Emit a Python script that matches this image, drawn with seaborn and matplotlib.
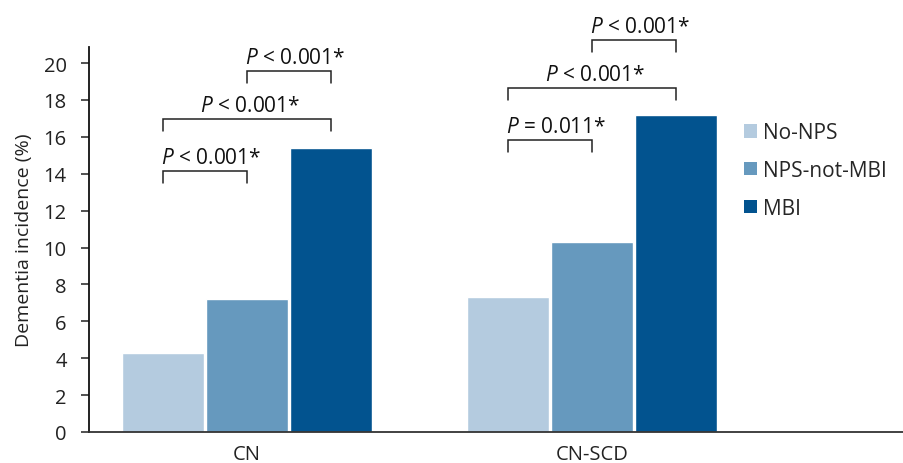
import matplotlib
matplotlib.use("Agg")
import matplotlib.pyplot as plt
import matplotlib.patches as mpatches
import seaborn as sns
import pandas as pd

# ---- data ----
categories = ["CN", "CN-SCD"]
groups = ["No-NPS", "NPS-not-MBI", "MBI"]
no_nps = [4.3, 7.3]
nps_not_mbi = [7.2, 10.3]
mbi = [15.4, 17.2]
colors = ["#B4CBDF", "#6699BE", "#02538F"]
yticks = [0, 2, 4, 6, 8, 10, 12, 14, 16, 18, 20]

# significance brackets: (category index, group a, group b, bracket level, label)
bracket_cat = [0, 0, 0, 1, 1, 1]
bracket_a = [0, 0, 1, 0, 0, 1]
bracket_b = [1, 2, 2, 1, 2, 2]
bracket_level = [14.15, 16.96, 19.57, 15.83, 18.64, 21.25]
bracket_text = ["< 0.001*", "< 0.001*", "< 0.001*", "= 0.011*", "< 0.001*", "< 0.001*"]

df = pd.DataFrame({
    "category": categories * 3,
    "group": [g for g in groups for _ in categories],
    "value": no_nps + nps_not_mbi + mbi,
})

sns.set_style("white")
plt.rcParams["font.family"] = ["Open Sans", "DejaVu Sans"]
plt.rcParams["mathtext.fontset"] = "custom"
plt.rcParams["mathtext.it"] = "Open Sans:italic"
plt.rcParams["mathtext.rm"] = "Open Sans"

fig = plt.figure(figsize=(9.04, 4.64), dpi=100)
ax = fig.add_axes([89 / 904, 31 / 464, 1 - 89 / 904, (433 - 48) / 464])

sns.barplot(data=df, x="category", y="value", hue="group", hue_order=groups,
            order=categories, palette=colors, width=0.73, gap=0.025,
            saturation=1, legend=False, ax=ax)

ax.set_xlim(-0.458, 1.904)
ax.set_ylim(0, 20.87)
ax.set_yticks(yticks)
ax.set_yticklabels([str(t) for t in yticks], fontsize=14.5, color="#222222")
ax.set_ylabel("Dementia incidence (%)", fontsize=14, color="#222222", labelpad=8)
ax.set_xlabel("")
ax.tick_params(axis="y", direction="out", length=6, width=1.1, color="#222222", pad=10, left=True)
ax.tick_params(axis="x", length=0, pad=9, labelsize=14.5, labelcolor="#222222")
for s in ["top", "right"]:
    ax.spines[s].set_visible(False)
ax.spines["left"].set_color("#111111")
ax.spines["left"].set_linewidth(1.3)
ax.spines["bottom"].set_color("#333333")
ax.spines["bottom"].set_linewidth(1.3)

# bar centers from containers
centers = []
for cont in ax.containers:
    centers.append([b.get_x() + b.get_width() / 2 for b in cont])

tip = 0.65
for c, a, b, lev, txt in zip(bracket_cat, bracket_a, bracket_b, bracket_level, bracket_text):
    x1 = centers[a][c]
    x2 = centers[b][c]
    ax.plot([x1, x1, x2, x2], [lev - tip, lev, lev, lev - tip], color="#222222",
            lw=1.1, clip_on=False, solid_joinstyle="miter")
    if b - a == 1:
        ax.text(x1 - 0.005, lev + 0.43, r"$P$ " + txt, ha="left", va="baseline",
                fontsize=15, color="#111111", clip_on=False)
    else:
        ax.text((x1 + x2) / 2 + 0.008, lev + 0.43, r"$P$ " + txt, ha="center", va="baseline",
                fontsize=15, color="#111111", clip_on=False)

handles = [mpatches.Patch(facecolor=col, edgecolor="none", label=g) for g, col in zip(groups, colors)]
leg = fig.legend(handles=handles, loc="upper left", bbox_to_anchor=(736 / 904, 1 - 115 / 464),
                 frameon=False, fontsize=15, handlelength=0.6, handleheight=0.6,
                 handletextpad=0.3, labelspacing=0.8, borderaxespad=0)

fig.savefig("out.png", dpi=100)
